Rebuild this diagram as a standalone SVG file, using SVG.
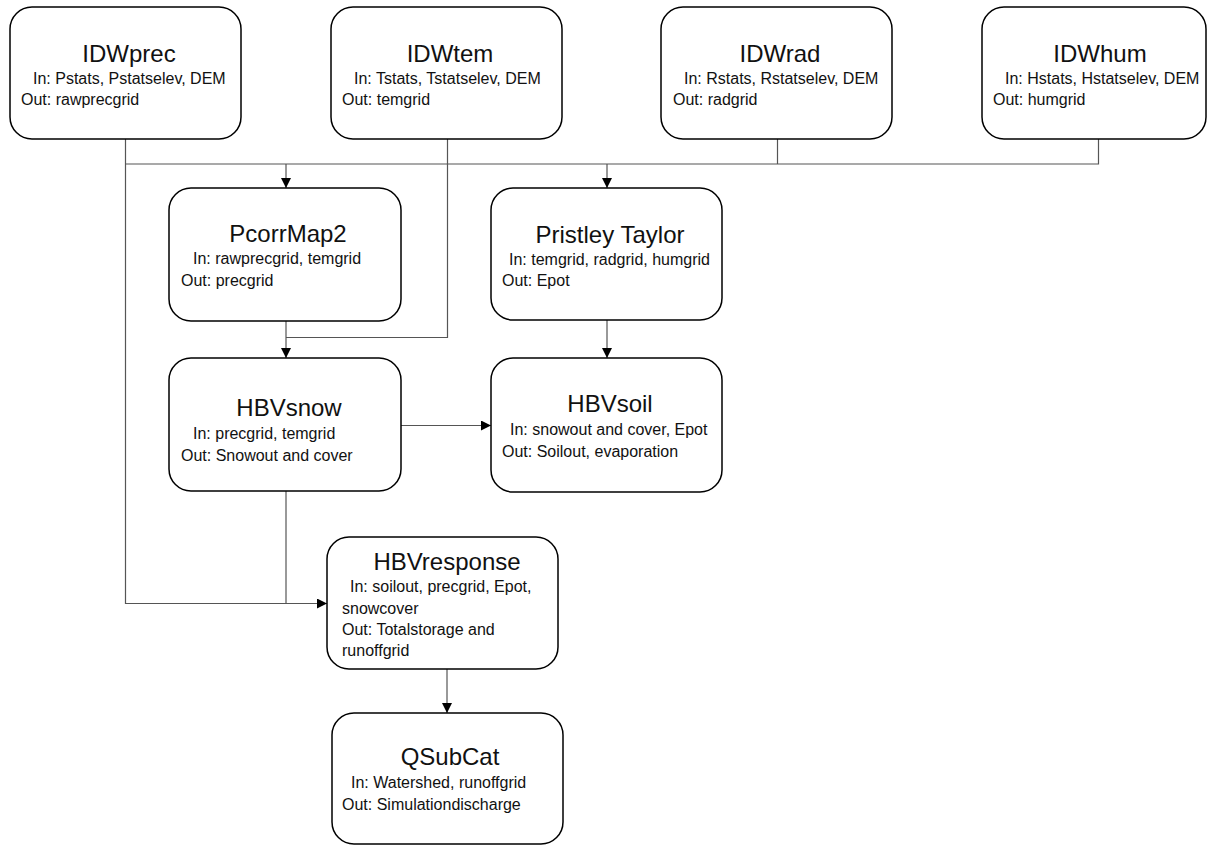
<svg xmlns="http://www.w3.org/2000/svg" width="1208" height="845" viewBox="0 0 1208 845">
<style>
.box{fill:#fff;stroke:#000;stroke-width:1.5}
.t{font-family:"Liberation Sans",Arial,sans-serif;font-size:24px;fill:#111;text-anchor:middle}
.s{font-family:"Liberation Sans",Arial,sans-serif;font-size:16px;fill:#111}
.c{fill:none;stroke:#555;stroke-width:1.2}
</style>
<defs>
<marker id="ah" viewBox="0 0 10 10" refX="10" refY="5" markerWidth="10" markerHeight="10" markerUnits="userSpaceOnUse" orient="auto">
<path d="M0,0 L10,5 L0,10 Z" fill="#000"/>
</marker>
</defs>
<rect width="1208" height="845" fill="#fff"/>
<g id="connectors">
<path class="c" d="M125.5,139 V603.5 H327" marker-end="url(#ah)"/>
<path class="c" d="M125.5,164 H1098.5 V139"/>
<path class="c" d="M777.5,139 V164"/>
<path class="c" d="M447.5,139 V337.5 H286"/>
<path class="c" d="M286,164 V188" marker-end="url(#ah)"/>
<path class="c" d="M607,164 V188" marker-end="url(#ah)"/>
<path class="c" d="M286,321 V358" marker-end="url(#ah)"/>
<path class="c" d="M607,320 V358" marker-end="url(#ah)"/>
<path class="c" d="M401,425.5 H491" marker-end="url(#ah)"/>
<path class="c" d="M286,491 V603.5"/>
<path class="c" d="M447,669 V713" marker-end="url(#ah)"/>
</g>
<g id="IDWprec">
<rect class="box" x="10" y="7" width="231" height="132" rx="22"/>
<text class="t" x="129" y="62">IDWprec</text>
<text class="s" x="33" y="84">In: Pstats, Pstatselev, DEM</text>
<text class="s" x="21" y="105">Out: rawprecgrid</text>
</g>
<g id="IDWtem">
<rect class="box" x="331" y="7" width="231" height="132" rx="22"/>
<text class="t" x="450" y="62">IDWtem</text>
<text class="s" x="354" y="84">In: Tstats, Tstatselev, DEM</text>
<text class="s" x="342" y="105">Out: temgrid</text>
</g>
<g id="IDWrad">
<rect class="box" x="661" y="7" width="231" height="132" rx="22"/>
<text class="t" x="780" y="62">IDWrad</text>
<text class="s" x="684" y="84">In: Rstats, Rstatselev, DEM</text>
<text class="s" x="673" y="105">Out: radgrid</text>
</g>
<g id="IDWhum">
<rect class="box" x="982" y="7" width="224" height="132" rx="22"/>
<text class="t" x="1100" y="62">IDWhum</text>
<text class="s" x="1005" y="84">In: Hstats, Hstatselev, DEM</text>
<text class="s" x="993" y="105">Out: humgrid</text>
</g>
<g id="PcorrMap2">
<rect class="box" x="169" y="188" width="232" height="133" rx="22"/>
<text class="t" x="288" y="242">PcorrMap2</text>
<text class="s" x="193" y="264">In: rawprecgrid, temgrid</text>
<text class="s" x="181" y="286">Out: precgrid</text>
</g>
<g id="PristleyTaylor">
<rect class="box" x="491" y="188" width="231" height="132" rx="22"/>
<text class="t" x="610" y="243">Pristley Taylor</text>
<text class="s" x="509" y="265">In: temgrid, radgrid, humgrid</text>
<text class="s" x="502" y="286">Out: Epot</text>
</g>
<g id="HBVsnow">
<rect class="box" x="169" y="358" width="232" height="133" rx="22"/>
<text class="t" x="289" y="416">HBVsnow</text>
<text class="s" x="193" y="439">In: precgrid, temgrid</text>
<text class="s" x="181" y="461">Out: Snowout and cover</text>
</g>
<g id="HBVsoil">
<rect class="box" x="491" y="358" width="231" height="134" rx="22"/>
<text class="t" x="610" y="412">HBVsoil</text>
<text class="s" x="510" y="435">In: snowout and cover, Epot</text>
<text class="s" x="502" y="457">Out: Soilout, evaporation</text>
</g>
<g id="HBVresponse">
<rect class="box" x="327" y="537" width="231" height="132" rx="22"/>
<text class="t" x="447" y="570">HBVresponse</text>
<text class="s" x="350" y="592">In: soilout, precgrid, Epot,</text>
<text class="s" x="342" y="614">snowcover</text>
<text class="s" x="342" y="635">Out: Totalstorage and</text>
<text class="s" x="342" y="656">runoffgrid</text>
</g>
<g id="QSubCat">
<rect class="box" x="332" y="713" width="231" height="131" rx="22"/>
<text class="t" x="450" y="765">QSubCat</text>
<text class="s" x="351" y="788">In: Watershed, runoffgrid</text>
<text class="s" x="342" y="810">Out: Simulationdischarge</text>
</g>
</svg>
